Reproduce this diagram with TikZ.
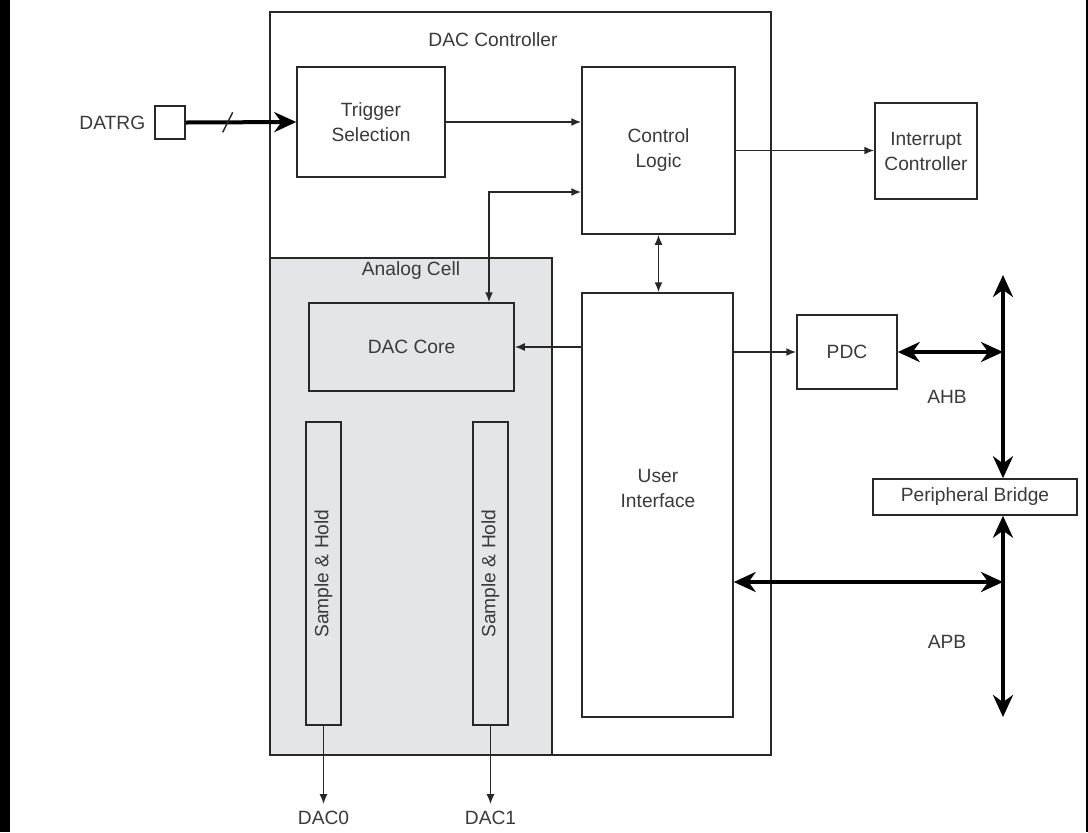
\documentclass[tikz,border=0pt]{standalone}
\usepackage{fontspec}
\setmainfont{Liberation Sans}
\usetikzlibrary{arrows.meta,calc}
\definecolor{txtgray}{RGB}{58,58,58}
\definecolor{linegray}{RGB}{40,40,40}
\definecolor{cellgray}{RGB}{228,229,233}
\begin{document}
\begin{tikzpicture}[x=0.5pt,y=-0.5pt,
  font=\fontsize{9.6}{12.5}\selectfont,
  every node/.style={text=txtgray,align=center},
  blk/.style={draw=linegray,line width=0.75pt,inner sep=0pt},
  sig/.style={draw=linegray,line width=0.8pt,-{Latex[length=5pt,width=4pt]}},
  dsig/.style={sig,{Latex[length=5pt,width=4pt]}-{Latex[length=5pt,width=4pt]}},
  bus/.style={draw=black,line width=2pt,{Stealth[length=11pt,width=10pt]}-{Stealth[length=11pt,width=10pt]}}]
\useasboundingbox (0,0) rectangle (1088,832);
\fill[black] (0,0) rectangle (10,832);
\fill[black] (1086,0) rectangle (1088,832);
% containers
\node[blk,minimum width=250.5pt,minimum height=371.5pt] (dacc) at (520.5,383.5) {};
\node (dacclbl) at (493,40) {DAC Controller};
\node[blk,fill=cellgray,minimum width=141pt,minimum height=248.5pt] (cell) at (411,506.5) {};
\node (celllbl) at (411,271) {Analog Cell};
% blocks
\node[blk,minimum width=15pt,minimum height=16.5pt] (datrg) at (170,122.5) {};
\node[left=1pt] (datrglbl) at (datrg.west) {DATRG};
\node[blk,minimum width=74pt,minimum height=55pt] (trig) at (371,122) {Trigger\\Selection};
\node[blk,minimum width=76.5pt,minimum height=83.5pt] (logic) at (658.5,150.5) {Control\\Logic};
\node[blk,minimum width=51pt,minimum height=48pt] (intr) at (926,151) {Interrupt\\Controller};
\node[blk,minimum width=102.5pt,minimum height=44pt] (core) at (411.5,347) {DAC Core};
\node[blk,minimum width=75.5pt,minimum height=212pt] (ui) at (657.5,505) {};
\node (uilbl) at (658,488) {User\\Interface};
\node[blk,minimum width=50pt,minimum height=37pt] (pdc) at (847,352) {PDC};
\node[blk,minimum width=102pt,minimum height=18pt] (bridge) at (975,497) {Peripheral Bridge};
\node[blk,rotate=90,minimum width=151.5pt,minimum height=17.5pt] (sh0) at (323.5,573.5) {Sample \& Hold};
\node[blk,rotate=90,minimum width=151.5pt,minimum height=17.5pt] (sh1) at (490.5,573.5) {Sample \& Hold};
\node (dac0) at (323.5,818) {DAC0};
\node (dac1) at (490.5,818) {DAC1};
\node (ahblbl) at (947,397) {AHB};
\node (apblbl) at (947,642) {APB};
% signals
\draw[draw=black,line width=2pt,-{Stealth[length=11pt,width=10pt]}] (datrg.east) -- (trig.west);
\draw[linegray,line width=0.75pt] ($(datrg.east)!0.38!(trig.west)$) ++(-5,10) -- ++(10,-20);
\draw[sig] (trig.east) -- (trig.east -| logic.west);
\draw[sig] (logic.east) -- (logic.east -| intr.west);
\coordinate (fb) at (489,192);
\draw[dsig] (core.north -| fb) -- (fb) -- (logic.west |- fb);
\draw[dsig] (logic.south) -- (ui.north -| logic.south);
\draw[sig] (ui.west |- core.east) -- (core.east);
\draw[sig] (ui.east |- pdc.west) -- (pdc.west);
\draw[sig] (sh0.west) -- (dac0.north);
\draw[sig] (sh1.west) -- (dac1.north);
% buses
\coordinate (ahbtop) at (1003,275);
\coordinate (apbbot) at (1003,717);
\coordinate (apbtap) at (1003,582);
\draw[bus] (ahbtop) -- (ahbtop |- bridge.north);
\draw[bus] (apbbot |- bridge.south) -- (apbbot);
\draw[bus] (pdc.east) -- (pdc.east -| ahbtop);
\draw[bus] (ui.east |- apbtap) -- (apbtap);
\end{tikzpicture}
\end{document}
